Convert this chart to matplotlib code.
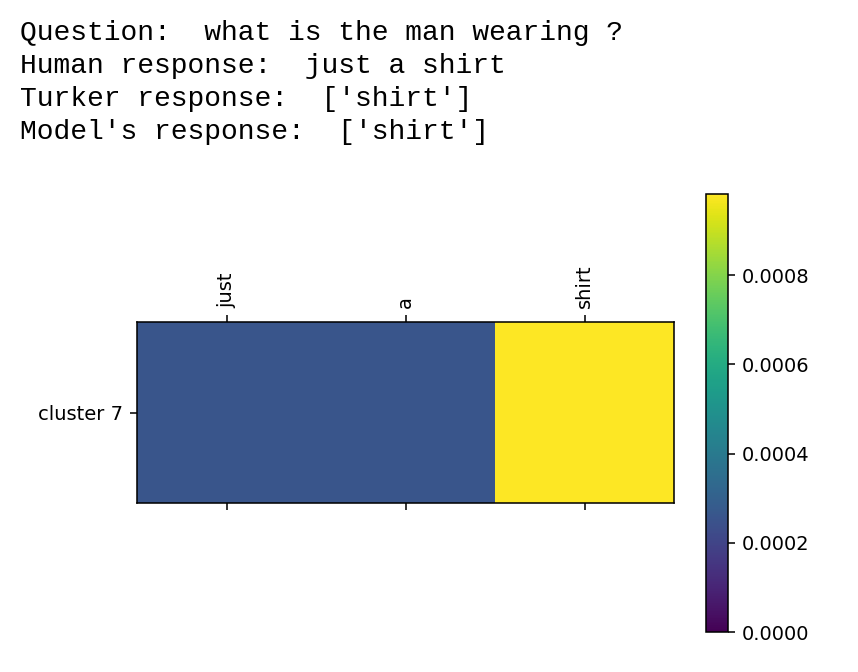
import numpy as np
import matplotlib
matplotlib.use("Agg")
import matplotlib.pyplot as plt

question = "what is the man wearing ?"
human_response = "just a shirt"
turker_response = "['shirt']"
model_response = "['shirt']"

words = ["just", "a", "shirt"]
clusters = ["cluster 7"]
weights = [[0.00026, 0.00026, 0.000982]]

W, H, DPI = 858, 672, 140
fig = plt.figure(figsize=(W / DPI, H / DPI), dpi=DPI)

lines = [
    "Question:  " + question,
    "Human response:  " + human_response,
    "Turker response:  " + turker_response,
    "Model's response:  " + model_response,
]
mono = ["Courier New", "Nimbus Mono PS", "Liberation Mono", "DejaVu Sans Mono"]
for i, line in enumerate(lines):
    fig.text(20 / W, 1 - (40 + 33 * i) / H, line, family=mono, fontsize=14.4,
             va="baseline", ha="left")

ax = fig.add_axes([137 / W, (H - 503) / H, 537 / W, 181 / H])
im = ax.imshow(np.array(weights), cmap="viridis", vmin=0, aspect="auto")
ax.set_xticks(range(len(words)))
ax.set_xticklabels(words, rotation=90)
ax.set_yticks(range(len(clusters)))
ax.set_yticklabels(clusters)
ax.xaxis.set_ticks_position("both")
ax.xaxis.set_label_position("top")
ax.tick_params(axis="x", labeltop=True, labelbottom=False)

cax = fig.add_axes([706 / W, (H - 632) / H, 22 / W, 438 / H])
fig.colorbar(im, cax=cax)

fig.savefig("out.png", dpi=DPI)
